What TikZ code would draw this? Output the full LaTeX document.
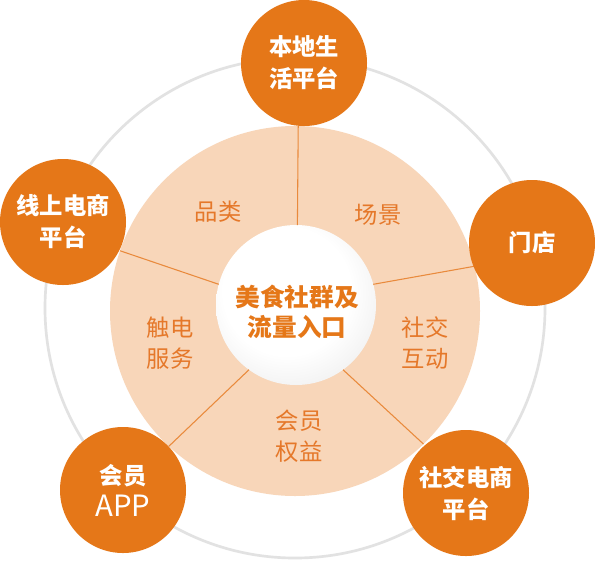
\documentclass[tikz,border=0pt]{standalone}
\usepackage{fontspec}
\setmainfont{Noto Sans CJK SC}
\definecolor{orng}{HTML}{E57718}
\definecolor{peach}{HTML}{F8D6B9}
\definecolor{ringgray}{HTML}{E2E2E2}
\definecolor{divline}{HTML}{E98A3C}
\definecolor{peachtext}{HTML}{E5782A}
\definecolor{ballwhite}{HTML}{FFFFFF}
\definecolor{ballgray}{HTML}{D6D6D6}
\pgfdeclareradialshading{ballsh}{\pgfpoint{-4bp}{6bp}}{color(0bp)=(ballwhite); color(20bp)=(ballwhite); color(52bp)=(ballgray); color(70bp)=(ballgray)}
\tikzset{
  orangenode/.style={circle, fill=orng, minimum size=94.5pt, inner sep=0pt, outer sep=0pt,
    text=white, font=\fontsize{17.5}{24}\selectfont\bfseries, align=center},
  peachlabel/.style={text=peachtext, font=\fontsize{17.5}{23.5}\selectfont, align=center, inner sep=0pt},
  divider/.style={draw=divline, line width=0.8pt},
}
\begin{document}
\begin{tikzpicture}[x=0.75pt, y=-0.75pt]
\useasboundingbox (0,0) rectangle (595,561);
\fill[white] (0,0) rectangle (595,561);
% outer ring
\node[circle, draw=ringgray, line width=2pt, minimum size=375pt, inner sep=0pt, outer sep=0pt] (ring) at (295,308) {};
% peach disc
\node[circle, fill=peach, minimum size=277.5pt, inner sep=0pt, outer sep=0pt] (peachdisc) at (295,311) {};
% white centre
\node[circle, shading=ballsh, minimum size=120pt, inner sep=0pt, outer sep=0pt] (core) at (296,305) {};
% dividers
\draw[divider] (peachdisc.89) -- (core.89);
\draw[divider] (peachdisc.161.6) -- (core.165);
\draw[divider] (peachdisc.14) -- (core.15.2);
\draw[divider] (peachdisc.227) -- (core.234.4);
\draw[divider] (peachdisc.314.8) -- (core.306);
% centre text
\node[text=orng, font=\fontsize{18.5}{23}\selectfont\bfseries, align=center, inner sep=0pt] (coretext) at (297,312) {美食社群及\\流量入口};
% orange nodes
\node[orangenode] (local) at (304,63) {本地生\\活平台};
\node[orangenode] (online) at (63,222) {线上电商\\平台};
\node[orangenode] (store) at (532,243) {门店};
\node[orangenode] (app) at (123,490) {会员\\{\fontsize{22}{24}\selectfont\mdseries APP}};
\node[orangenode] (social) at (466,493) {社交电商\\平台};
% peach labels
\node[peachlabel] (cat) at (218,212) {品类};
\node[peachlabel] (scene) at (378,215) {场景};
\node[peachlabel] (touch) at (170,343) {触电\\服务};
\node[peachlabel] (inter) at (425,343) {社交\\互动};
\node[peachlabel] (member) at (299,436) {会员\\权益};
\end{tikzpicture}
\end{document}
